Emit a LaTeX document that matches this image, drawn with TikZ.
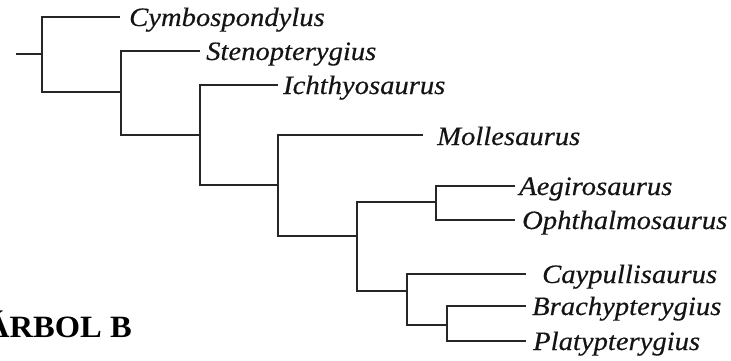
\documentclass[tikz,border=0pt]{standalone}
\usepackage{fontspec}
\newfontfamily\taxfont{Liberation Serif}[FakeStretch=1.08,FakeBold=0.4]
\newfontfamily\headfont{Liberation Serif}[FakeStretch=1.05]
\begin{document}
\begin{tikzpicture}[x=1pt,y=-1pt,
  branch/.style={line width=1.7pt,draw=black!85},
  taxon/.style={anchor=base west,inner sep=0pt,font=\taxfont\itshape\fontsize{26.5}{30}\selectfont,text=black!92},
  heading/.style={anchor=base west,inner sep=0pt,font=\headfont\bfseries\fontsize{31}{36}\selectfont,text=black}]
\useasboundingbox (0,0) rectangle (731,361);
% internal nodes
\coordinate (r0) at (16,54);
\coordinate (n1) at (42,54);
\coordinate (n2) at (121,92);
\coordinate (n3) at (200,135);
\coordinate (n4) at (278,185);
\coordinate (n5) at (357,236);
\coordinate (n6) at (436,202);
\coordinate (n7) at (407,291);
\coordinate (n8) at (447,325);
% leaf ends
\coordinate (eCym) at (120,17);
\coordinate (eSte) at (200,51);
\coordinate (eIch) at (278,85);
\coordinate (eMol) at (423,135);
\coordinate (eAeg) at (515,186);
\coordinate (eOph) at (515,220);
\coordinate (eCay) at (526,274);
\coordinate (eBra) at (526,306);
\coordinate (ePla) at (526,341);
% labels
\node[taxon] (Cym) at (129,26) {Cymbospondylus};
\node[taxon] (Ste) at (206,60) {Stenopterygius};
\node[taxon] (Ich) at (283,94) {Ichthyosaurus};
\node[taxon] (Mol) at (437,145) {Mollesaurus};
\node[taxon] (Aeg) at (519,195) {Aegirosaurus};
\node[taxon] (Oph) at (522,229) {Ophthalmosaurus};
\node[taxon] (Cay) at (542,283) {Caypullisaurus};
\node[taxon] (Bra) at (532,315) {Brachypterygius};
\node[taxon] (Pla) at (533,350) {Platypterygius};
\node[heading] (title) at (-14,337) {ÁRBOL B};
% branches
\draw[branch] (r0) -- (n1);
\draw[branch] (n1) |- (eCym);
\draw[branch] (n1) |- (n2);
\draw[branch] (n2) |- (eSte);
\draw[branch] (n2) |- (n3);
\draw[branch] (n3) |- (eIch);
\draw[branch] (n3) |- (n4);
\draw[branch] (n4) |- (eMol);
\draw[branch] (n4) |- (n5);
\draw[branch] (n5) |- (n6);
\draw[branch] (n5) |- (n7);
\draw[branch] (n6) |- (eAeg);
\draw[branch] (n6) |- (eOph);
\draw[branch] (n7) |- (eCay);
\draw[branch] (n7) |- (n8);
\draw[branch] (n8) |- (eBra);
\draw[branch] (n8) |- (ePla);
\end{tikzpicture}
\end{document}
